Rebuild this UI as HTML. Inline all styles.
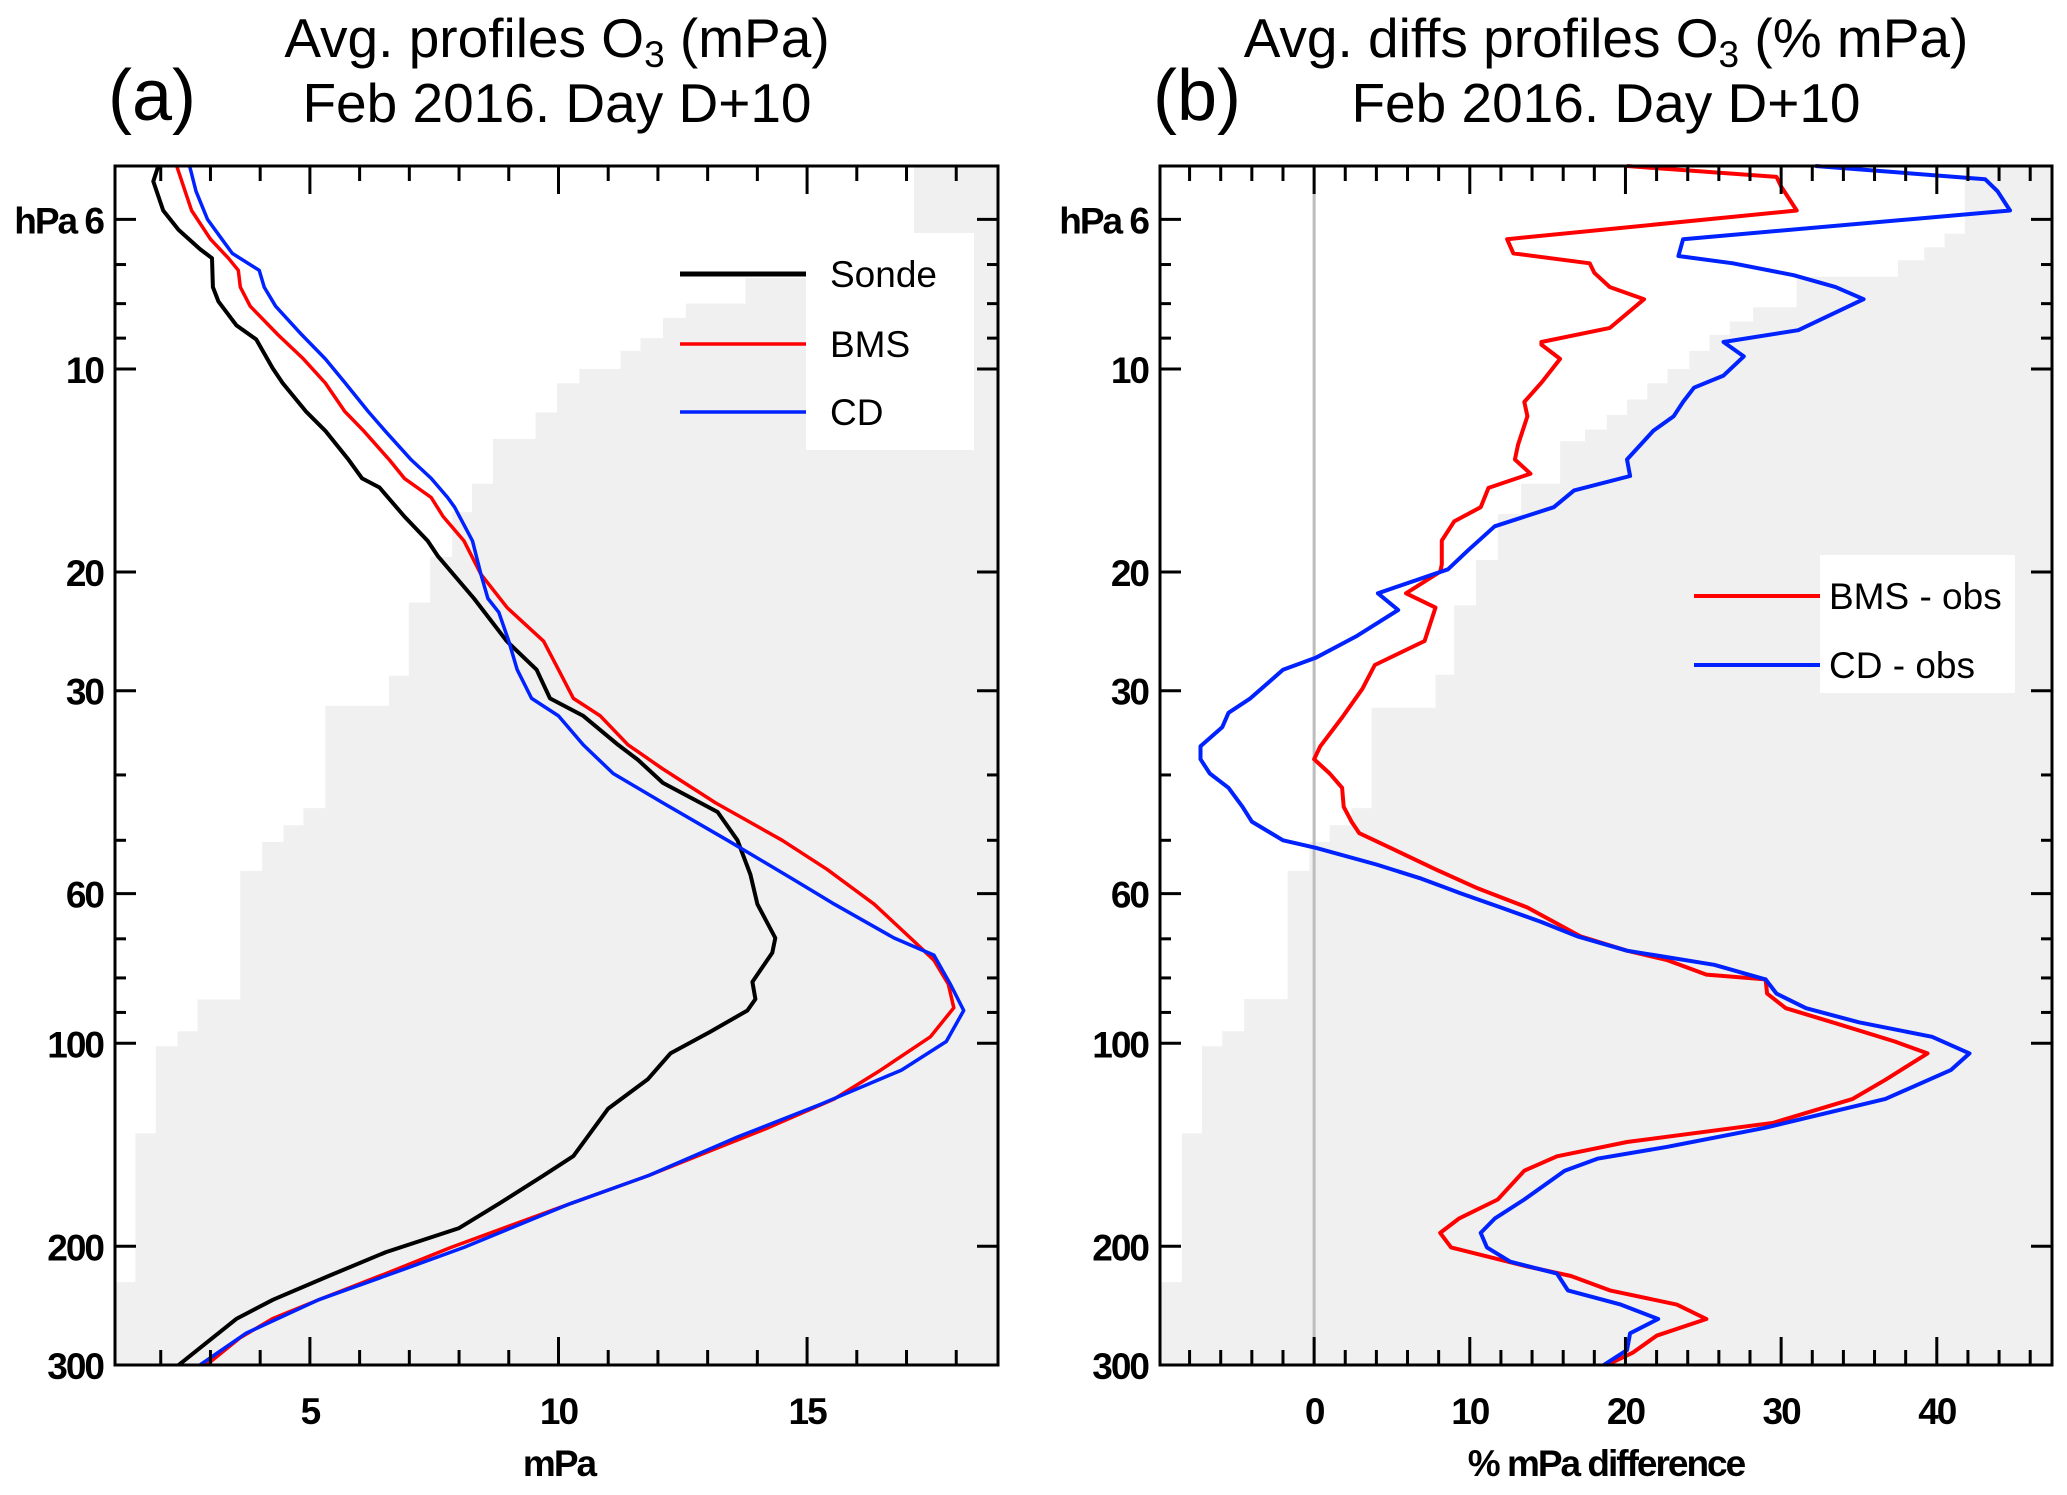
<!DOCTYPE html>
<html><head><meta charset="utf-8"><style>
html,body{margin:0;padding:0;background:#fff;}
svg{display:block;}
text{font-family:"Liberation Sans",Arial,sans-serif;}
.tk{font-weight:bold;font-size:37px;letter-spacing:-2px;}
.ttl{font-size:55px;}
.lg{font-size:37px;}
</style></head><body>
<svg id="chart" width="2067" height="1495" viewBox="0 0 2067 1495" xmlns="http://www.w3.org/2000/svg">
<g id="pa"></g>
<g id="pb"></g>
<text x="108" y="120" font-size="72">(a)</text>
<text x="557" y="57" class="ttl" text-anchor="middle">Avg. profiles O<tspan font-size="37" dy="10">3</tspan><tspan dy="-10"> (mPa)</tspan></text>
<text x="557" y="122" class="ttl" text-anchor="middle">Feb 2016. Day D+10</text>
<text x="1153" y="120" font-size="72">(b)</text>
<text x="1606" y="57" class="ttl" text-anchor="middle">Avg. diffs profiles O<tspan font-size="37" dy="10">3</tspan><tspan dy="-10"> (% mPa)</tspan></text>
<text x="1606" y="122" class="ttl" text-anchor="middle">Feb 2016. Day D+10</text>
</svg>
<script>
// ---- shared axis data ----
const pMajor = [6, 10, 20, 30, 60, 100, 200, 300];
const pMajorLabels = ["hPa 6", "10", "20", "30", "60", "100", "200", "300"];
const pMinor = [7, 8, 9, 40, 50, 70, 80, 90];
const pRange = [5, 300];

// ---- panel a data: [pressure hPa, mPa] ----
const sondeData = [[5,1.95],[5.27,1.85],[5.82,2.05],[6.22,2.36],[6.64,2.79],[6.85,3.03],[7.56,3.05],[7.94,3.16],[8.61,3.52],[9.04,3.92],[9.97,4.25],[10.49,4.45],[11.56,4.92],[12.35,5.31],[13.64,5.78],[14.53,6.05],[14.99,6.4],[16.55,6.9],[17.99,7.37],[18.93,7.57],[21.9,8.3],[25.33,8.96],[27.92,9.56],[30.8,9.83],[32.7,10.5],[36.1,11.2],[38,11.6],[41.1,12.1],[45.4,13.2],[50,13.6],[56.2,13.86],[62.2,14.0],[69.8,14.36],[73.4,14.3],[81.1,13.9],[86,13.96],[89.4,13.8],[96.2,13.05],[103.5,12.25],[113,11.8],[125,11.0],[147,10.3],[157,9.7],[173,8.8],[188,8.0],[204,6.53],[221,5.4],[240,4.26],[256,3.53],[283,2.79],[300,2.36]];
const bmsData = [[5,2.32],[5.45,2.49],[5.82,2.62],[6.42,3.0],[6.85,3.36],[7.14,3.56],[7.56,3.6],[8.07,3.8],[8.9,4.36],[9.66,4.87],[10.49,5.31],[11.56,5.7],[12.35,6.08],[13.64,6.6],[14.53,6.9],[15.51,7.44],[16.55,7.68],[17.99,8.1],[20.15,8.44],[22.6,8.97],[25.33,9.7],[27.92,10.0],[30.8,10.3],[32.7,10.84],[36.1,11.4],[39.2,12.1],[44.0,13.16],[50,14.5],[55.2,15.4],[62.2,16.35],[69.8,17.08],[75.3,17.55],[81.7,17.84],[88.6,17.95],[97.8,17.48],[109.6,16.48],[120.9,15.55],[133.4,14.22],[144.7,13.02],[157,11.82],[173,10.23],[200.8,7.84],[217.9,6.64],[240,5.18],[256,4.25],[273.6,3.59],[300,2.92]];
const cdData = [[5,2.58],[5.45,2.71],[6.0,2.94],[6.42,3.23],[6.74,3.44],[7.14,3.98],[7.56,4.08],[8.07,4.31],[8.9,4.84],[9.66,5.31],[10.49,5.71],[11.56,6.17],[12.35,6.51],[13.64,7.04],[14.53,7.44],[15.51,7.77],[16.03,7.91],[17.99,8.27],[20.15,8.44],[21.9,8.58],[22.95,8.8],[25.33,9.0],[27.92,9.17],[30.8,9.46],[32.7,10.0],[36.1,10.5],[39.8,11.1],[44.0,12.1],[50,13.4],[57.0,14.7],[62.2,15.55],[69.8,16.75],[74.0,17.55],[81.7,17.88],[89.4,18.15],[99.4,17.8],[109.6,16.9],[122.9,15.3],[137.7,13.6],[157,11.82],[173,10.23],[200.8,8.1],[217.9,6.77],[240,5.18],[269,3.72],[300,2.79]];
// shaded band boundary: [x value, pressure top, pressure bottom]
const shadeA = [[17.15,5,7.33],[13.76,7.33,8.0],[12.56,8.0,8.4],[12.1,8.4,9.0],[11.65,9.0,9.4],[11.25,9.4,10.0],[10.42,10.0,10.5],[9.97,10.5,11.6],[9.54,11.6,12.7],[8.68,12.7,14.8],[8.26,14.8,16.3],[7.86,16.3,19.0],[7.42,19.0,22.2],[6.99,22.2,28.5],[6.59,28.5,31.6],[5.31,31.6,44.8],[4.87,44.8,47.5],[4.47,47.5,50.3],[4.04,50.3,55.5],[3.6,55.5,86.1],[2.74,86.1,96],[2.34,96,101],[1.9,101,136],[1.49,136,226],[1.05,226,300]];
const xTicksA = [5, 10, 15];
const xMinorA = [2,3,4,6,7,8,9,11,12,13,14,16,17,18];

// ---- panel b data: [pressure hPa, % difference] ----
const bmsDiff = [[5,20.1],[5.19,29.7],[5.36,30.0],[5.82,31.0],[6.42,12.4],[6.74,12.8],[6.97,17.7],[7.2,18.0],[7.56,19.0],[7.88,21.2],[8.69,19.0],[9.12,14.6],[9.2,14.6],[9.66,15.8],[10.48,14.6],[11.19,13.5],[11.75,13.7],[12.96,13.1],[13.62,12.9],[14.3,13.9],[15.01,11.2],[16.03,10.7],[16.83,9.0],[17.97,8.2],[19.5,8.2],[19.98,8.1],[21.51,5.9],[22.59,7.8],[25.32,7.1],[27.48,3.9],[29.81,3.1],[32.88,1.8],[36.27,0.4],[37.9,0.0],[39.8,1.0],[41.8,1.8],[44.6,1.9],[46.9,2.4],[48.8,2.9],[51.7,5.2],[55.2,7.8],[58.9,10.5],[62.9,13.7],[69.4,17.1],[72.9,20.1],[75.3,22.7],[79.1,25.2],[80.4,29.0],[84.4,29.1],[88.7,30.3],[93.1,33.3],[99.4,37.3],[103.5,39.4],[113.3,36.7],[120.9,34.6],[131.2,29.5],[140.1,20.1],[147.1,15.6],[154.5,13.5],[170.5,11.8],[182.0,9.3],[191.1,8.1],[200.8,8.8],[214.3,13.7],[221.4,16.5],[232.5,19.0],[244.1,23.3],[256.4,25.2],[271.4,22.0],[287.4,20.5],[300,18.8]];
const cdDiff = [[5,32.2],[5.23,43.1],[5.45,43.9],[5.82,44.7],[6.42,23.7],[6.8,23.4],[6.97,26.9],[7.26,30.8],[7.56,33.5],[7.88,35.3],[8.76,31.1],[9.12,26.3],[9.58,27.6],[10.23,26.3],[10.66,24.4],[11.19,23.7],[11.75,23.1],[12.34,21.8],[13.62,20.1],[14.41,20.3],[15.14,16.7],[16.03,15.4],[17.11,11.6],[18.57,9.9],[19.82,8.6],[21.51,4.1],[22.77,5.4],[24.92,2.7],[26.81,0.1],[27.93,-2.0],[30.8,-4.1],[32.35,-5.5],[33.97,-5.9],[36.27,-7.3],[37.9,-7.3],[39.8,-6.7],[41.8,-5.5],[44.6,-4.6],[46.9,-4.0],[50.0,-2.0],[51.3,0.1],[54.3,4.0],[57.0,6.9],[59.9,9.4],[62.9,12.0],[66.1,14.6],[69.4,16.9],[72.9,20.1],[76.5,25.7],[80.4,29.0],[84.4,29.7],[88.7,31.6],[93.1,35.0],[97.8,39.7],[103.5,42.1],[109.6,40.9],[120.9,36.7],[133.4,29.0],[142.4,22.7],[148.3,18.2],[154.5,16.1],[170.5,13.5],[182.0,11.6],[191.1,10.7],[200.8,11.1],[210.8,12.6],[219.6,15.6],[232.5,16.3],[244.1,19.7],[256.4,22.1],[269.2,20.3],[285.1,20.1],[300,18.6]];
const shadeB = [[41.8,5,6.3],[40.5,6.3,6.6],[39.2,6.6,6.9],[37.5,6.9,7.3],[31.0,7.3,8.1],[28.2,8.1,8.5],[26.7,8.5,8.9],[25.4,8.9,9.4],[24.1,9.4,10.0],[22.7,10.0,10.5],[21.4,10.5,11.1],[20.1,11.1,11.7],[18.8,11.7,12.3],[17.4,12.3,12.8],[15.8,12.8,14.8],[13.3,14.8,16.4],[11.8,16.4,19.2],[10.4,19.2,22.4],[9.0,22.4,28.4],[7.8,28.4,31.8],[3.7,31.8,44.8],[2.4,44.8,47.5],[1.0,47.5,50.3],[-0.3,50.3,55.5],[-1.7,55.5,86],[-4.5,86,96],[-5.9,96,101],[-7.2,101,136],[-8.5,136,226],[-10,226,300]];
const xTicksB = [0, 10, 20, 30, 40];
const xMinorB = [-8,-6,-4,-2,2,4,6,8,12,14,16,18,22,24,26,28,32,34,36,38,42,44,46];

const NS = "http://www.w3.org/2000/svg";
function mk(parent, tag, attrs) {
  const e = document.createElementNS(NS, tag);
  for (const k in attrs) e.setAttribute(k, attrs[k]);
  parent.appendChild(e);
  return e;
}

function drawPanel(g, cfg) {
  const L = cfg.left, R = cfg.right, T = 166, B = 1365;
  const xs = v => L + (v - cfg.xmin) / (cfg.xmax - cfg.xmin) * (R - L);
  const ys = p => T + Math.log(p / pRange[0]) / Math.log(pRange[1] / pRange[0]) * (B - T);
  let d = "M" + R + "," + T;
  cfg.shade.forEach(s => { d += " L" + Math.max(L, xs(s[0])).toFixed(1) + "," + ys(s[1]).toFixed(1) + " L" + Math.max(L, xs(s[0])).toFixed(1) + "," + ys(s[2]).toFixed(1); });
  d += " L" + R + "," + B + " Z";
  const sh = mk(g, "path", {d: d, fill: "#f0f0f0", stroke: "none"});
  
  
  if (cfg.zeroLine) {
    const z = mk(g, "line", {x1: xs(0), x2: xs(0), y1: T, y2: B, stroke: "#bdbdbd", "stroke-width": 3});
    
    
  }
  const lb = mk(g, "rect", cfg.legendBox);
  
  
  cfg.series.forEach(s => {
    const pts = s.data.map(q => xs(q[1]).toFixed(1) + "," + ys(q[0]).toFixed(1)).join(" ");
    const pl = mk(g, "polyline", {points: pts, fill: "none", stroke: s.color, "stroke-width": s.w, "stroke-linejoin": "round"});
    
    
  });
  cfg.legend.forEach(le => {
    const gl = mk(g, "g", {});
    
    
    mk(gl, "line", {x1: le.x1, x2: le.x2, y1: le.y, y2: le.y, stroke: le.color, "stroke-width": le.w});
    const t = mk(gl, "text", {x: le.tx, y: le.y + 13, "class": "lg"});
    t.textContent = le.label;
  });
  const fr = mk(g, "rect", {x: L, y: T, width: R - L, height: B - T, fill: "none", stroke: "#000", "stroke-width": 3});
  
  
  const ax = mk(g, "g", {stroke: "#000", "stroke-width": 3});
  
  
  pMajor.forEach((p, i) => {
    const y = ys(p);
    mk(ax, "line", {x1: L, x2: L + 21, y1: y, y2: y});
    mk(ax, "line", {x1: R, x2: R - 21, y1: y, y2: y});
    const t = mk(g, "text", {x: L - 12, y: y + 14, "text-anchor": "end", "class": "tk"});
    
    
    t.textContent = pMajorLabels[i];
  });
  pMinor.forEach(p => {
    const y = ys(p);
    mk(ax, "line", {x1: L, x2: L + 11, y1: y, y2: y});
    mk(ax, "line", {x1: R, x2: R - 11, y1: y, y2: y});
  });
  cfg.xTicks.forEach(v => {
    const x = xs(v);
    mk(ax, "line", {x1: x, x2: x, y1: T, y2: T + 28});
    mk(ax, "line", {x1: x, x2: x, y1: B, y2: B - 28});
    const t = mk(g, "text", {x: x, y: 1424, "text-anchor": "middle", "class": "tk"});
    
    
    t.textContent = String(v);
  });
  cfg.xMinor.forEach(v => {
    const x = xs(v);
    mk(ax, "line", {x1: x, x2: x, y1: T, y2: T + 15});
    mk(ax, "line", {x1: x, x2: x, y1: B, y2: B - 15});
  });
  const xt = mk(g, "text", {x: cfg.xTitleX, y: 1476, "text-anchor": "middle", "class": "tk", "font-size": 33});
  
  
  xt.textContent = cfg.xTitle;
}

drawPanel(document.getElementById("pa"), {
  left: 115, right: 998, xmin: 1.08, xmax: 18.84, shade: shadeA, zeroLine: false,
  xTicks: xTicksA, xMinor: xMinorA, xTitle: "mPa", xTitleX: 559,
  legendBox: {x: 806, y: 233, width: 168, height: 217, fill: "#fff"},
  series: [
    {data: sondeData, color: "#000", w: 4, name: "sonde-line"},
    {data: bmsData, color: "#ff0000", w: 3.5, name: "bms-line"},
    {data: cdData, color: "#0022ff", w: 3.5, name: "cd-line"}
  ],
  legend: [
    {x1: 680, x2: 806, y: 274, color: "#000", w: 5, tx: 830, label: "Sonde"},
    {x1: 680, x2: 806, y: 344, color: "#ff0000", w: 3.5, tx: 830, label: "BMS"},
    {x1: 680, x2: 806, y: 412, color: "#0022ff", w: 3.5, tx: 830, label: "CD"}
  ]
});
drawPanel(document.getElementById("pb"), {
  left: 1160, right: 2052, xmin: -9.9, xmax: 47.4, shade: shadeB, zeroLine: true,
  xTicks: xTicksB, xMinor: xMinorB, xTitle: "% mPa difference", xTitleX: 1606,
  legendBox: {x: 1820, y: 555, width: 195, height: 138, fill: "#fff"},
  series: [
    {data: bmsDiff, color: "#ff0000", w: 4, name: "bms-minus-obs-line"},
    {data: cdDiff, color: "#0022ff", w: 4, name: "cd-minus-obs-line"}
  ],
  legend: [
    {x1: 1694, x2: 1820, y: 596, color: "#ff0000", w: 4, tx: 1829, label: "BMS - obs"},
    {x1: 1694, x2: 1820, y: 665, color: "#0022ff", w: 4, tx: 1829, label: "CD - obs"}
  ]
});
</script>
</body></html>
